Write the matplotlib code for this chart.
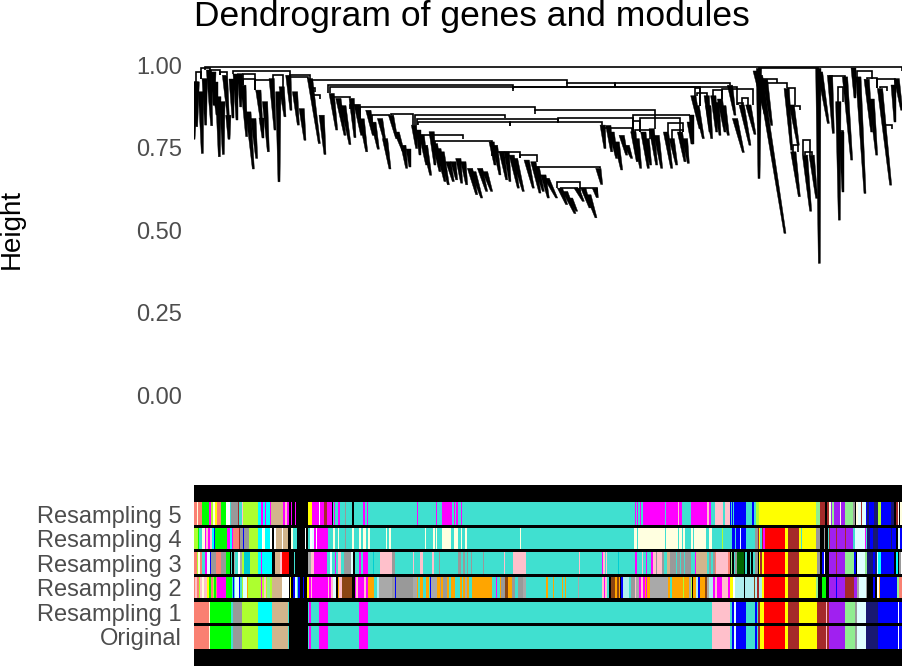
import matplotlib
matplotlib.use("Agg")
import matplotlib.pyplot as plt
from matplotlib.transforms import ScaledTranslation

plt.rcParams["font.family"] = ["Liberation Sans", "DejaVu Sans"]

# module colours, one letter per module
palette = {
    "t": "#40E0D0", "m": "#FF00FF", "s": "#FA8072", "g": "#00FF00", "y": "#FFFF00",
    "w": "#FFFFFF", "p": "#FFC0CB", "c": "#00FFFF", "a": "#D2B48C", "e": "#999999",
    "r": "#FF0000", "b": "#0000FF", "n": "#A52A2A", "u": "#A020F0", "l": "#90EE90",
    "x": "#E0FFFF", "d": "#191970", "v": "#ADFF2F", "k": "#000000", "i": "#FFFFE0",
    "o": "#FFA500", "h": "#8B4513", "j": "#006400", "f": "#00CED1", "q": "#A9A9A9",
    "z": "#AFEEEE",
}

# module runs along the gene order: (last gene, module)
original = [(58,"s"),(60,"i"),(123,"g"),(128,"t"),(157,"e"),(204,"v"),(246,"c"),(295,"a"),(298,"t"),
    (353,"k"),(357,"t"),(363,"m"),(387,"t"),(413,"m"),(507,"t"),(533,"m"),(1566,"t"),(1620,"p"),
    (1626,"t"),(1632,"b"),(1638,"x"),(1668,"b"),(1695,"t"),(1700,"b"),(1705,"t"),(1709,"n"),(1715,"y"),
    (1717,"n"),(1722,"y"),(1785,"r"),(1794,"y"),(1827,"n"),(1880,"y"),(1909,"n"),(1912,"p"),(1916,"n"),
    (1965,"u"),(1995,"l"),(2001,"e"),(2028,"x"),(2064,"d"),(2124,"b"),(2127,"w"),(2136,"b")]

res1 = list(original)

res2 = [(14,"s"),(20,"p"),(26,"s"),(30,"v"),(36,"p"),(42,"i"),(52,"p"),(58,"y"),(62,"g"),(68,"s"),(72,"v"),
    (78,"g"),(82,"s"),(108,"m"),(127,"g"),(130,"t"),(133,"b"),(136,"t"),(147,"x"),(150,"b"),(156,"t"),
    (160,"v"),(170,"x"),(174,"o"),(213,"v"),(216,"m"),(222,"v"),(228,"p"),(232,"v"),(240,"l"),(246,"v"),
    (276,"a"),(297,"w"),(300,"k"),(303,"y"),(310,"k"),(314,"b"),(321,"x"),(325,"t"),(329,"b"),(339,"k"),
    (342,"b"),(352,"k"),(356,"y"),(362,"m"),(366,"p"),(414,"m"),(418,"p"),(424,"m"),(428,"p"),(438,"x"),
    (444,"k"),(447,"o"),(456,"p"),(486,"h"),(495,"k"),(498,"m"),(504,"p"),(522,"m"),(528,"p"),(534,"m"),
    (552,"o"),(560,"t"),(567,"z"),(605,"q"),(615,"e"),(618,"b"),(670,"e"),(680,"q"),(684,"o"),(690,"t"),
    (700,"o"),(708,"t"),(716,"o"),(720,"t"),(724,"b"),(742,"q"),(750,"o"),(754,"e"),(760,"o"),(772,"e"),
    (778,"o"),(784,"t"),(796,"o"),(810,"t"),(815,"o"),(820,"t"),(825,"o"),(832,"q"),(838,"o"),(845,"t"),
    (906,"o"),(918,"t"),(922,"m"),(930,"t"),(934,"o"),(946,"e"),(954,"h"),(966,"o"),(975,"e"),(985,"t"),
    (1000,"e"),(1007,"q"),(1068,"t"),(1074,"o"),(1090,"t"),(1092,"o"),(1116,"t"),(1120,"o"),(1126,"t"),
    (1128,"o"),(1164,"t"),(1167,"q"),(1236,"t"),(1242,"p"),(1246,"m"),(1252,"p"),(1257,"t"),(1263,"k"),
    (1276,"h"),(1280,"o"),(1286,"h"),(1290,"o"),(1294,"k"),(1299,"b"),(1317,"z"),(1323,"t"),(1335,"e"),
    (1338,"p"),(1348,"q"),(1352,"m"),(1360,"p"),(1364,"m"),(1368,"o"),(1372,"m"),(1380,"o"),(1434,"q"),
    (1440,"o"),(1445,"t"),(1463,"o"),(1479,"o"),(1483,"v"),(1497,"o"),(1503,"q"),(1506,"v"),(1509,"k"),
    (1518,"o"),(1525,"z"),(1531,"b"),(1545,"o"),(1551,"h"),(1557,"q"),(1569,"z"),(1575,"m"),(1581,"p"),
    (1595,"m"),(1614,"p"),(1620,"m"),(1629,"y"),(1635,"w"),(1650,"z"),(1662,"z"),(1665,"k"),(1692,"z"),
    (1695,"h"),(1701,"z"),(1707,"n"),(1715,"z"),(1722,"y"),(1785,"r"),(1794,"y"),(1827,"n"),(1878,"y"),
    (1883,"l"),(1895,"k"),(1908,"g"),(1916,"k"),(1938,"u"),(1941,"b"),(1965,"u"),(1992,"n"),(2001,"u"),
    (2007,"q"),(2028,"x"),(2031,"e"),(2049,"k"),(2055,"b"),(2061,"k"),(2067,"w"),(2070,"o"),(2121,"b"),
    (2127,"l"),(2136,"s")]

res3 = [(20,"s"),(24,"v"),(30,"i"),(36,"s"),(46,"t"),(52,"m"),(60,"x"),(64,"b"),(78,"e"),(94,"s"),(108,"e"),
    (120,"g"),(123,"k"),(127,"t"),(131,"k"),(136,"q"),(144,"t"),(150,"w"),(155,"q"),(162,"v"),(180,"f"),
    (204,"v"),(213,"c"),(216,"m"),(246,"c"),(255,"k"),(270,"a"),(276,"p"),(297,"r"),(312,"k"),(315,"t"),
    (354,"k"),(364,"q"),(372,"p"),(412,"m"),(420,"t"),(425,"x"),(434,"t"),(437,"m"),(445,"t"),(452,"p"),
    (462,"t"),(484,"e"),(490,"x"),(495,"k"),(507,"t"),(513,"m"),(519,"t"),(534,"m"),(548,"t"),(552,"f"),
    (570,"t"),(606,"p"),(615,"e"),(669,"t"),(672,"p"),(690,"t"),(699,"p"),(726,"t"),(732,"p"),(747,"t"),
    (750,"e"),(804,"t"),(813,"e"),(818,"t"),(825,"e"),(831,"t"),(834,"e"),(843,"t"),(846,"e"),(879,"t"),
    (882,"e"),(942,"t"),(945,"p"),(969,"t"),(974,"p"),(1008,"p"),(1167,"t"),(1170,"p"),(1236,"t"),
    (1239,"m"),(1244,"p"),(1248,"t"),(1251,"p"),(1284,"t"),(1287,"f"),(1335,"t"),(1340,"m"),(1356,"t"),
    (1359,"p"),(1368,"t"),(1371,"m"),(1383,"t"),(1389,"m"),(1398,"p"),(1401,"e"),(1416,"p"),(1422,"e"),
    (1431,"t"),(1440,"a"),(1458,"e"),(1461,"t"),(1470,"e"),(1473,"t"),(1482,"e"),(1485,"t"),(1503,"e"),
    (1515,"t"),(1518,"m"),(1551,"a"),(1557,"t"),(1563,"e"),(1569,"t"),(1575,"e"),(1579,"s"),(1614,"p"),
    (1620,"s"),(1623,"k"),(1626,"l"),(1632,"k"),(1635,"t"),(1641,"e"),(1662,"j"),(1665,"k"),(1671,"t"),
    (1680,"k"),(1683,"t"),(1689,"k"),(1695,"t"),(1704,"e"),(1707,"k"),(1710,"y"),(1716,"n"),(1722,"y"),
    (1785,"r"),(1794,"y"),(1827,"n"),(1881,"y"),(1890,"e"),(1896,"k"),(1902,"b"),(1905,"w"),(1917,"k"),
    (1938,"u"),(1941,"n"),(1965,"u"),(1992,"l"),(1998,"b"),(2001,"k"),(2025,"x"),(2031,"l"),(2049,"d"),
    (2055,"b"),(2061,"d"),(2064,"x"),(2073,"c"),(2112,"b"),(2118,"k"),(2124,"c"),(2127,"k"),(2133,"e"),
    (2136,"w")]

res4 = [(24,"v"),(27,"g"),(36,"t"),(45,"i"),(48,"m"),(54,"p"),(60,"m"),(66,"p"),(72,"c"),(76,"b"),(112,"g"),
    (120,"m"),(126,"c"),(130,"m"),(146,"s"),(150,"n"),(158,"e"),(162,"b"),(177,"e"),(204,"v"),(216,"c"),
    (220,"w"),(225,"i"),(240,"c"),(247,"w"),(252,"k"),(258,"w"),(276,"a"),(279,"w"),(294,"a"),(303,"k"),
    (309,"i"),(321,"t"),(345,"k"),(348,"w"),(354,"k"),(360,"t"),(366,"w"),(372,"x"),(378,"m"),(381,"w"),
    (414,"m"),(430,"t"),(436,"i"),(444,"t"),(448,"i"),(465,"t"),(468,"e"),(486,"t"),(492,"i"),(507,"t"),
    (513,"i"),(519,"t"),(528,"i"),(534,"t"),(540,"i"),(588,"t"),(592,"i"),(597,"t"),(603,"i"),(705,"t"),
    (708,"i"),(729,"t"),(735,"i"),(738,"t"),(741,"i"),(756,"t"),(783,"i"),(792,"t"),(804,"i"),(813,"t"),
    (816,"i"),(825,"t"),(831,"i"),(990,"t"),(993,"i"),(1332,"t"),(1341,"i"),(1344,"t"),(1425,"i"),(1428,"t"),
    (1465,"i"),(1467,"t"),(1476,"i"),(1479,"t"),(1485,"i"),(1503,"t"),(1509,"i"),(1512,"t"),(1548,"i"),
    (1557,"t"),(1566,"i"),(1596,"t"),(1599,"v"),(1626,"t"),(1635,"b"),(1638,"t"),(1650,"b"),(1653,"x"),
    (1668,"b"),(1695,"t"),(1704,"e"),(1707,"n"),(1710,"y"),(1716,"t"),(1719,"n"),(1725,"m"),(1785,"r"),
    (1794,"y"),(1827,"n"),(1833,"y"),(1836,"t"),(1878,"y"),(1890,"e"),(1902,"k"),(1905,"e"),(1914,"k"),
    (1917,"t"),(1920,"n"),(1938,"u"),(1941,"n"),(1965,"u"),(1968,"n"),(1989,"u"),(1995,"t"),(2025,"x"),
    (2028,"m"),(2031,"t"),(2040,"d"),(2049,"b"),(2064,"d"),(2103,"b"),(2106,"d"),(2118,"b"),(2124,"k"),
    (2130,"x"),(2136,"b")]

res5 = [(22,"s"),(24,"i"),(35,"s"),(58,"g"),(62,"m"),(70,"v"),(74,"i"),(81,"y"),(94,"s"),(108,"g"),(120,"w"),
    (124,"t"),(143,"e"),(147,"n"),(155,"t"),(158,"p"),(204,"v"),(213,"c"),(219,"m"),(226,"c"),(228,"m"),
    (240,"c"),(244,"m"),(279,"a"),(285,"m"),(292,"p"),(298,"m"),(302,"k"),(306,"m"),(315,"k"),(318,"m"),
    (353,"k"),(365,"y"),(388,"m"),(391,"w"),(403,"m"),(412,"n"),(426,"m"),(428,"k"),(432,"t"),(436,"m"),
    (444,"t"),(450,"m"),(464,"t"),(468,"e"),(486,"t"),(491,"k"),(519,"t"),(526,"m"),(531,"t"),(533,"m"),
    (681,"t"),(684,"m"),(738,"t"),(741,"m"),(756,"t"),(786,"m"),(792,"t"),(796,"m"),(798,"t"),(804,"m"),
    (813,"t"),(816,"m"),(1335,"t"),(1339,"m"),(1342,"t"),(1345,"m"),(1350,"t"),(1353,"m"),(1358,"t"),
    (1425,"m"),(1428,"t"),(1465,"m"),(1467,"p"),(1476,"m"),(1503,"t"),(1551,"m"),(1557,"p"),(1563,"m"),
    (1575,"t"),(1599,"p"),(1605,"t"),(1620,"p"),(1623,"b"),(1626,"t"),(1629,"b"),(1632,"t"),(1668,"b"),
    (1685,"t"),(1692,"b"),(1697,"t"),(1707,"v"),(1878,"y"),(1890,"l"),(1905,"n"),(1912,"k"),(1916,"n"),
    (1922,"i"),(1925,"u"),(1932,"l"),(1950,"u"),(1953,"i"),(1965,"u"),(1989,"l"),(1995,"e"),(1998,"k"),
    (2004,"i"),(2013,"x"),(2016,"n"),(2028,"x"),(2031,"b"),(2037,"d"),(2052,"b"),(2064,"d"),(2073,"v"),
    (2103,"b"),(2112,"d"),(2118,"k"),(2124,"n"),(2127,"w"),(2130,"k"),(2136,"i")]

row_names = ["Original", "Resampling 1", "Resampling 2", "Resampling 3", "Resampling 4", "Resampling 5"]
row_runs = [original, res1, res2, res3, res4, res5]
height_ticks = [0.00, 0.25, 0.50, 0.75, 1.00]

# dense leaf clusters: x at top, x at bottom, height at top, height at bottom
clusters = [(17,12,.952,.778),(20,20,.952,.816),(33,37,.922,.735),(44,47,.962,.821),(57,65,.988,.819),
    (70,72,.982,.881),(75,80,.952,.851),(85,88,.907,.725),(97,100,.892,.732),(105,115,.972,.841),
    (115,117,.851,.778),(125,130,.962,.841),(137,142,.977,.836),(150,152,.977,.876),(160,170,.942,.786),
    (175,190,.861,.688),(190,200,.841,.720),(205,215,.927,.826),(225,235,.892,.740),(215,220,.841,.781),
    (245,255,.962,.806),(265,267,.922,.649),(275,285,.937,.846),(295,303,.972,.866),(315,325,.922,.821),
    (335,345,.871,.775),(360,388,.962,.765),(395,405,.851,.732),(425,440,.917,.806),(445,465,.902,.790),
    (460,480,.880,.762),(485,495,.902,.783),(500,515,.882,.790),(515,530,.840,.740),(535,550,.866,.790),
    (550,565,.830,.748),(570,585,.841,.770),(585,600,.780,.688),(603,620,.851,.780),(620,640,.800,.740),
    (640,650,.760,.690),(655,660,.750,.695),(672,680,.821,.750),(685,690,.806,.730),(695,710,.791,.700),
    (705,722,.760,.669),(725,735,.801,.700),(735,750,.765,.680),(745,765,.750,.650),(755,775,.740,.640),
    (775,790,.710,.650),(790,800,.710,.655),(805,815,.720,.645),(820,830,.710,.640),(840,860,.690,.610),
    (850,875,.680,.600),(870,890,.690,.620),(885,905,.680,.620),(905,915,.770,.700),(915,930,.760,.670),
    (935,950,.740,.655),(950,960,.740,.650),(965,985,.730,.630),(975,1000,.720,.620),(1010,1030,.715,.630),
    (1030,1050,.710,.615),(1040,1060,.695,.620),(1060,1075,.670,.600),(1070,1100,.660,.600),(1110,1130,.630,.580),
    (1125,1155,.620,.553),(1140,1160,.600,.560),(1160,1180,.630,.590),(1180,1200,.630,.570),(1195,1218,.610,.540),
    (1225,1235,.690,.641),(1215,1222,.629,.601),(1238,1245,.821,.750),(1255,1265,.820,.740),(1265,1280,.800,.720),
    (1280,1295,.770,.685),(1295,1310,.790,.730),(1310,1325,.760,.720),(1330,1342,.801,.710),(1340,1352,.780,.690),
    (1360,1375,.800,.690),(1370,1382,.780,.700),(1385,1400,.810,.700),(1400,1415,.790,.690),(1428,1445,.800,.690),
    (1445,1460,.780,.700),(1470,1485,.800,.710),(1485,1495,.780,.705),(1500,1505,.831,.765),(1510,1530,.910,.810),
    (1520,1540,.880,.780),(1550,1560,.910,.800),(1555,1565,.880,.780),(1570,1580,.910,.800),(1580,1590,.890,.790),
    (1590,1605,.900,.800),(1600,1615,.880,.790),(1620,1635,.942,.851),(1635,1660,.841,.738),(1655,1680,.882,.760),
    (1675,1695,.882,.793),(1505,1510,.851,.765),(1697,1725,.985,.855),(1725,1745,.960,.820),
    (1707,1707,.993,.659),(1710,1785,.972,.493),(1790,1805,.932,.745),(1805,1825,.882,.760),
    (1810,1828,.740,.604),(1845,1862,.730,.560),(1865,1880,.730,.599),(1885,1888,.993,.402),
    (1890,1915,.982,.826),(1920,1930,.972,.796),(1945,1948,.892,.533),(1955,1960,.801,.619),
    (1965,1985,.967,.715),(1990,1995,.993,.902),(2005,2025,.967,.614),(2030,2045,.960,.800),(2045,2060,.900,.730),
    (2070,2102,.932,.639),(2110,2115,.942,.831),(2120,2135,.962,.866)]

# merges: left gene, right gene, height
merges = [(45,2136,.998),(33,60,.995),(18,33,.982),(60,90,.988),(90,110,.982),(130,300,.985),(300,360,.972),
    (360,1130,.957),(1130,1275,.947),(415,970,.943),(420,1530,.936),(160,195,.977),(160,195,.960),(195,250,.959),
    (250,278,.972),(300,355,.967),(365,375,.932),(365,390,.912),(430,480,.907),(480,510,.882),(510,1035,.875),
    (545,600,.853),(603,670,.856),(1035,1395,.866),(675,945,.853),(680,1105,.838),(1105,1330,.841),(685,960,.829),
    (960,1235,.829),(1330,1500,.853),(1330,1350,.833),(1350,1470,.843),(1335,1380,.806),(1435,1480,.826),
    (1445,1480,.806),(1240,1325,.813),(690,820,.791),(735,905,.772),(905,990,.738),(990,1040,.730),(1035,1230,.695),
    (1100,1170,.649),(1110,1165,.631),(1170,1220,.629),(1707,1885,.993),(1720,1760,.960),(1725,1790,.947),
    (1795,1815,.932),(1795,1830,.880),(1810,1825,.760),(1845,1865,.740),(1840,1860,.775),(1920,1965,.970),
    (1945,1960,.937),(1950,1960,.803),(2000,2045,.985),(2030,2060,.964),(2060,2115,.962),(2070,2090,.937),
    (2085,2105,.821),(1275,1620,.948),(970,1640,.935),(1515,1530,.932),(1520,1550,.919),(1570,1595,.927),
    (1595,1690,.929),(1655,1675,.902),(1645,1660,.887)]

fig = plt.figure(figsize=(9.02, 6.67), dpi=100)
ax = fig.add_axes([194 / 902, 1 / 667, 708 / 902, 626.4 / 667])
ax.set_xlim(12, 2136)
ax.set_ylim(-0.818, 1.08)

for name in ["top", "right", "bottom", "left"]:
    ax.spines[name].set_visible(False)


# how far a merge leg drops: to the top of the cluster under it, else a short stub
def leg_end(x, h):
    tops = [c[2] for c in clusters if abs(c[0] - x) <= 15 and h - 0.06 < c[2] < h]
    return max(tops) if tops else h - 0.012


# dendrogram, clusters taper towards the leaves
for x_top, x_bot, h_top, h_bot in clusters:
    ax.fill([x_top - 8, x_top + 8, x_bot + 3, x_bot - 3], [h_top, h_top, h_bot, h_bot],
            color="black", linewidth=0.3)
for x0, x1, h in merges:
    ax.plot([x0, x0, x1, x1], [leg_end(x0, h), h, h, leg_end(x1, h)], color="black", lw=1.2,
            solid_joinstyle="miter", solid_capstyle="butt")

# module colour rows on a black block
ax.barh(-0.544, 2124, height=0.548, left=12, color="black", linewidth=0)
row_bottoms = [-0.767, -0.688, -0.612, -0.539, -0.464, -0.391]
row_tops = [-0.697, -0.623, -0.548, -0.473, -0.400, -0.321]
for runs, bottom, top in zip(row_runs, row_bottoms, row_tops):
    start = 12
    for end, module in runs:
        ax.barh(bottom, end - start, height=top - bottom, left=start, align="edge",
                color=palette[module], linewidth=0)
        start = end

row_ticks = [-0.731, -0.658, -0.582, -0.509, -0.435, -0.361]
ax.set_yticks(height_ticks + row_ticks)
ax.set_yticklabels(["%.2f" % h for h in height_ticks] + row_names, fontsize=17, color="#4D4D4D")
ax.tick_params(axis="y", length=0, pad=8.7)
ax.set_xticks([])

# labels sit one pixel higher in the reference
nudge = ScaledTranslation(0, 1 / 100, fig.dpi_scale_trans)
for label in ax.get_yticklabels():
    label.set_transform(label.get_transform() + nudge)

fig.text(194 / 902, 1 - 26 / 667, "Dendrogram of genes and modules", fontsize=25.5, va="baseline")
fig.text(12 / 902, 1 - 229 / 667, "Height", fontsize=20, rotation=90, ha="center", va="center")

fig.savefig("out.png", dpi=100)
